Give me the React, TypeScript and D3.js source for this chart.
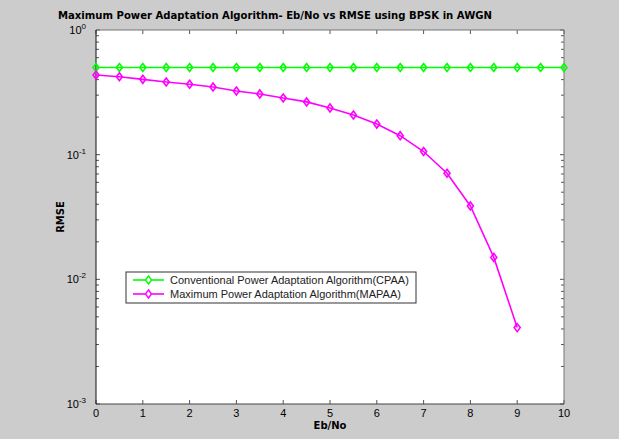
import React, { useRef, useEffect } from "react"
import * as d3 from "d3"

const W = 619
const H = 439

// Eb/No values (dB)
const ebno = [0, 0.5, 1, 1.5, 2, 2.5, 3, 3.5, 4, 4.5, 5, 5.5, 6, 6.5, 7, 7.5, 8, 8.5, 9, 9.5, 10]
const ebnoMapaa = [0, 0.5, 1, 1.5, 2, 2.5, 3, 3.5, 4, 4.5, 5, 5.5, 6, 6.5, 7, 7.5, 8, 8.5, 9]
const rmseCpaa = [0.5, 0.5, 0.5, 0.5, 0.5, 0.5, 0.5, 0.5, 0.5, 0.5, 0.5, 0.5, 0.5, 0.5, 0.5, 0.5, 0.5, 0.5, 0.5, 0.5, 0.5]
const rmseMapaa = [0.435, 0.422, 0.402, 0.383, 0.367, 0.349, 0.324, 0.307, 0.285, 0.265, 0.237, 0.208, 0.176, 0.142, 0.106, 0.071, 0.0388, 0.015, 0.0041]
const xTicks = [0, 1, 2, 3, 4, 5, 6, 7, 8, 9, 10]
const yDecades = [0, -1, -2, -3]
const seriesNames = ["Conventional Power Adaptation Algorithm(CPAA)", "Maximum Power Adaptation Algorithm(MAPAA)"]
const seriesColors = ["#00ff00", "#ff00ff"]

const App = () => {
    const ref = useRef(null)

    useEffect(() => {
        const left = 96, right = 564, top = 30, bottom = 404
        const svg = d3.select(ref.current)
        svg.selectAll("*").remove()

        svg.append("rect").attr("width", W).attr("height", H).attr("fill", "#cccccc")
        svg.append("rect").attr("x", left).attr("y", top).attr("width", right - left).attr("height", bottom - top).attr("fill", "#ffffff")

        const x = d3.scaleLinear().domain([0, 10]).range([left, right])
        const y = d3.scaleLog().domain([1e-3, 1]).range([bottom, top])

        // ticks
        const tickLen = 4
        const g = svg.append("g").attr("stroke", "#555").attr("stroke-width", 1)
        xTicks.forEach(t => {
            g.append("line").attr("x1", x(t)).attr("x2", x(t)).attr("y1", bottom).attr("y2", bottom - tickLen)
            g.append("line").attr("x1", x(t)).attr("x2", x(t)).attr("y1", top).attr("y2", top + tickLen)
        })
        y.ticks().forEach(v => {
            const isMajor = Math.abs(Math.log10(v) - Math.round(Math.log10(v))) < 1e-9
            const len = isMajor ? tickLen : tickLen - 1
            g.append("line").attr("x1", left).attr("x2", left + len).attr("y1", y(v)).attr("y2", y(v))
            g.append("line").attr("x1", right).attr("x2", right - len).attr("y1", y(v)).attr("y2", y(v))
        })

        // axes box
        svg.append("line").attr("x1", left).attr("x2", right).attr("y1", top).attr("y2", top).attr("stroke", "#777")
        svg.append("line").attr("x1", right).attr("x2", right).attr("y1", top).attr("y2", bottom).attr("stroke", "#777")
        svg.append("line").attr("x1", left).attr("x2", right).attr("y1", bottom).attr("y2", bottom).attr("stroke", "#444")
        svg.append("line").attr("x1", left).attr("x2", left).attr("y1", top).attr("y2", bottom).attr("stroke", "#111")

        const font = "Liberation Sans, Arial, sans-serif"
        xTicks.forEach(t => {
            svg.append("text").attr("x", x(t)).attr("y", bottom + 13).attr("text-anchor", "middle")
                .attr("font-family", font).attr("font-size", 11).attr("fill", "#000").text(t)
        })
        yDecades.forEach(d => {
            const tx = svg.append("text").attr("x", left - 10).attr("y", y(Math.pow(10, d)) + 4).attr("text-anchor", "end")
                .attr("font-family", font).attr("font-size", 11).attr("fill", "#000")
            tx.append("tspan").text("10")
            tx.append("tspan").attr("dy", -5).attr("font-size", 8).text(d)
        })

        // series
        const drawSeries = (xs: number[], ys: number[], color: string) => {
            const pts = xs.map((v, i) => [x(v), y(ys[i])] as [number, number])
            svg.append("path").attr("d", d3.line()(pts)).attr("fill", "none").attr("stroke", color).attr("stroke-width", 1.6)
            pts.forEach(p => {
                svg.append("path").attr("d", `M${p[0]},${p[1] - 4}L${p[0] + 3},${p[1]}L${p[0]},${p[1] + 4}L${p[0] - 3},${p[1]}Z`)
                    .attr("fill", "none").attr("stroke", color).attr("stroke-width", 1.6)
            })
        }
        drawSeries(ebno, rmseCpaa, seriesColors[0])
        drawSeries(ebnoMapaa, rmseMapaa, seriesColors[1])

        // legend
        const lx = 126, ly = 272, lw = 290, lh = 31
        svg.append("rect").attr("x", lx).attr("y", ly).attr("width", lw).attr("height", lh)
            .attr("fill", "#fff").attr("stroke", "#333").attr("stroke-width", 1)
        seriesNames.forEach((name, i) => {
            const yy = ly + 8 + i * 14
            svg.append("line").attr("x1", lx + 7).attr("x2", lx + 38).attr("y1", yy).attr("y2", yy)
                .attr("stroke", seriesColors[i]).attr("stroke-width", 1.6)
            const cx = lx + 22.5
            svg.append("path").attr("d", `M${cx},${yy - 4}L${cx + 3},${yy}L${cx},${yy + 4}L${cx - 3},${yy}Z`)
                .attr("fill", "#fff").attr("stroke", seriesColors[i]).attr("stroke-width", 1.4)
            svg.append("text").attr("x", lx + 44).attr("y", yy + 4).attr("font-family", font)
                .attr("font-size", 11).attr("fill", "#222").text(name)
        })

        // title and labels
        svg.append("text").attr("x", 275).attr("y", 19).attr("text-anchor", "middle")
            .attr("font-family", "DejaVu Sans, Verdana, sans-serif").attr("font-size", 11).attr("font-weight", "bold")
            .attr("textLength", 434).attr("lengthAdjust", "spacingAndGlyphs")
            .attr("fill", "#000").text("Maximum Power Adaptation Algorithm- Eb/No vs RMSE using BPSK in AWGN")
        svg.append("text").attr("x", (left + right) / 2).attr("y", 429).attr("text-anchor", "middle")
            .attr("font-family", "DejaVu Sans, Verdana, sans-serif").attr("font-size", 10).attr("font-weight", "bold")
            .attr("fill", "#000").text("Eb/No")
        svg.append("text").attr("transform", `translate(64,${(top + bottom) / 2}) rotate(-90)`).attr("text-anchor", "middle")
            .attr("font-family", "DejaVu Sans, Verdana, sans-serif").attr("font-size", 10).attr("font-weight", "bold")
            .attr("fill", "#000").text("RMSE")
    }, [])

    return (
        <div style={{ position: "fixed", left: 0, top: 0 }}>
            <svg ref={ref} width={W} height={H} style={{ display: "block" }}></svg>
        </div>
    )
}

export default App
